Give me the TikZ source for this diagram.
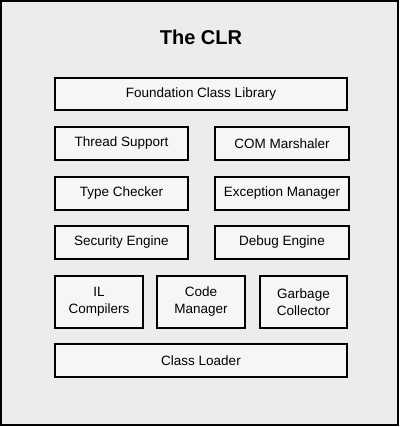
\documentclass[tikz,border=0pt]{standalone}
\usepackage{fontspec}
\setmainfont{Liberation Sans}
\definecolor{bggray}{HTML}{ECECEC}
\definecolor{boxfill}{HTML}{F6F6F6}
\tikzset{
  box/.style={draw=black, line width=2pt, fill=boxfill, font=\fontsize{13.5}{17}\selectfont, align=center, inner sep=0pt},
}
\begin{document}
\begin{tikzpicture}[x=1pt,y=-1pt]
\useasboundingbox (0,0) rectangle (400,427);
\draw[line width=2pt, fill=bggray] (1,1) rectangle (398,425);
\node[font=\bfseries\fontsize{20}{24}\selectfont] (title) at (201,37) {The CLR};
\node[box, minimum width=292pt, minimum height=32pt] (fcl) at (201,94) {Foundation Class Library};
\node[box, minimum width=133pt, minimum height=33pt] (ts) at (121.5,143.5) {Thread Support};
\node[box, minimum width=134pt, minimum height=33pt] (com) at (282,143.5) {COM Marshaler};
\node[box, minimum width=133pt, minimum height=33pt] (tc) at (121.5,193.5) {Type Checker};
\node[box, minimum width=134pt, minimum height=33pt] (em) at (282,193.5) {Exception Manager};
\node[box, minimum width=133pt, minimum height=33pt] (se) at (121.5,242.5) {Security Engine};
\node[box, minimum width=134pt, minimum height=33pt] (de) at (282,242.5) {Debug Engine};
\node[box, minimum width=88pt, minimum height=52pt] (il) at (99,302) {IL\\Compilers};
\node[box, minimum width=88pt, minimum height=52pt] (cm) at (201,302) {Code\\Manager};
\node[box, minimum width=87pt, minimum height=52pt] (gc) at (303.5,302) {Garbage\\Collector};
\node[box, minimum width=292pt, minimum height=33pt] (cl) at (201,360.5) {Class Loader};
\end{tikzpicture}
\end{document}
